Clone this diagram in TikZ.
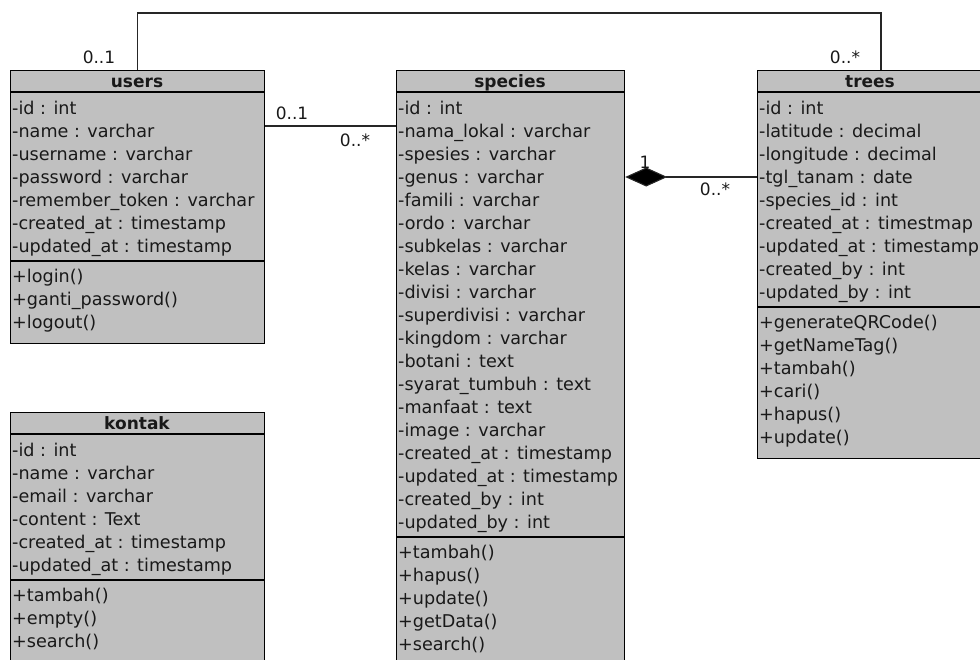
\documentclass[tikz,border=0pt]{standalone}
\usepackage{fontspec}
\setmainfont{DejaVu Sans}
\usetikzlibrary{arrows.meta}
\definecolor{boxgray}{RGB}{192,192,192}
\definecolor{inkgray}{RGB}{25,25,25}
% list of members, one per row, starting at a given baseline
\newcommand\classrows[3]{%
  \foreach \m [count=\i from 0] in {#3}
    \node[member] at (#1,{#2+23*\i}) {\m};}
\begin{document}
\begin{tikzpicture}[x=1pt,y=-1pt,
  classbox/.style={draw=black, fill=boxgray, line width=1.2pt, rectangle,
    inner sep=0pt, anchor=north west},
  member/.style={anchor=base west, inner sep=0pt, text=inkgray,
    font=\fontsize{17.6}{20}\selectfont},
  classtitle/.style={anchor=base, inner sep=0pt, text=inkgray,
    font=\fontsize{17}{20}\selectfont\bfseries},
  mult/.style={anchor=base, inner sep=0pt, text=inkgray,
    font=\fontsize{17}{20}\selectfont},
  link/.style={draw=black!85, line width=1.1pt},
  divider/.style={line width=1.2pt}]
\useasboundingbox (0,0) rectangle (980,659);
\clip (0,0) rectangle (980,659);

% class boxes
\node[classbox, minimum width=254pt, minimum height=273pt] (users)  at (10,70) {};
\node[classbox, minimum width=228pt, minimum height=640pt] (species) at (396,70) {};
\node[classbox, minimum width=226pt, minimum height=388pt] (trees)  at (757,70) {};
\node[classbox, minimum width=254pt, minimum height=300pt] (kontak) at (10,412) {};

% compartment dividers
\draw[divider] (10,92) -- (264,92) (10,261) -- (264,261);
\draw[divider] (396,92) -- (624,92) (396,537) -- (624,537);
\draw[divider] (757,92) -- (983,92) (757,307) -- (983,307);
\draw[divider] (10,434) -- (264,434) (10,580) -- (264,580);

% users
\node[classtitle] (usersT) at (137,87) {users};
\classrows{12}{114}{-id : int,-name : varchar,-username : varchar,-password : varchar,-remember\_token : varchar,-created\_at : timestamp,-updated\_at : timestamp}
\classrows{12}{282}{+login(),+ganti\_password(),+logout()}

% species
\node[classtitle] (speciesT) at (510,87) {species};
\classrows{398}{114}{-id : int,-nama\_lokal : varchar,-spesies : varchar,-genus : varchar,-famili : varchar,-ordo : varchar,-subkelas : varchar,-kelas : varchar,-divisi : varchar,-superdivisi : varchar,-kingdom : varchar,-botani : text,-syarat\_tumbuh : text,-manfaat : text,-image : varchar,-created\_at : timestamp,-updated\_at : timestamp,-created\_by : int,-updated\_by : int}
\classrows{398}{558}{+tambah(),+hapus(),+update(),+getData(),+search()}

% trees
\node[classtitle] (treesT) at (870,87) {trees};
\classrows{759}{114}{-id : int,-latitude : decimal,-longitude : decimal,-tgl\_tanam : date,-species\_id : int,-created\_at : timestmap,-updated\_at : timestamp,-created\_by : int,-updated\_by : int}
\classrows{759}{328}{+generateQRCode(),+getNameTag(),+tambah(),+cari(),+hapus(),+update()}

% kontak
\node[classtitle] (kontakT) at (137,429) {kontak};
\classrows{12}{456}{-id : int,-name : varchar,-email : varchar,-content : Text,-created\_at : timestamp,-updated\_at : timestamp}
\classrows{12}{601}{+tambah(),+empty(),+search()}

% connectors
\coordinate (topY) at (0,13);
\coordinate (treesTop) at (881,70);
\coordinate (assocY) at (0,126);
\coordinate (compY) at (0,177);

\draw[link] (users.north) -- (users.north |- topY) -| (treesTop);
\draw[link] (users.east |- assocY) -- (species.west |- assocY);
\draw[link, -{Diamond[length=42pt, width=19pt, fill=black]}]
  (trees.west |- compY) -- (species.east |- compY);

% multiplicities
\node[mult] (m1) at (99,63) {0..1};
\node[mult] (m2) at (845,63) {0..*};
\node[mult] (m3) at (292,119) {0..1};
\node[mult] (m4) at (355,146) {0..*};
\node[mult] (m5) at (645,168) {1};
\node[mult] (m6) at (715,195) {0..*};
\end{tikzpicture}
\end{document}
